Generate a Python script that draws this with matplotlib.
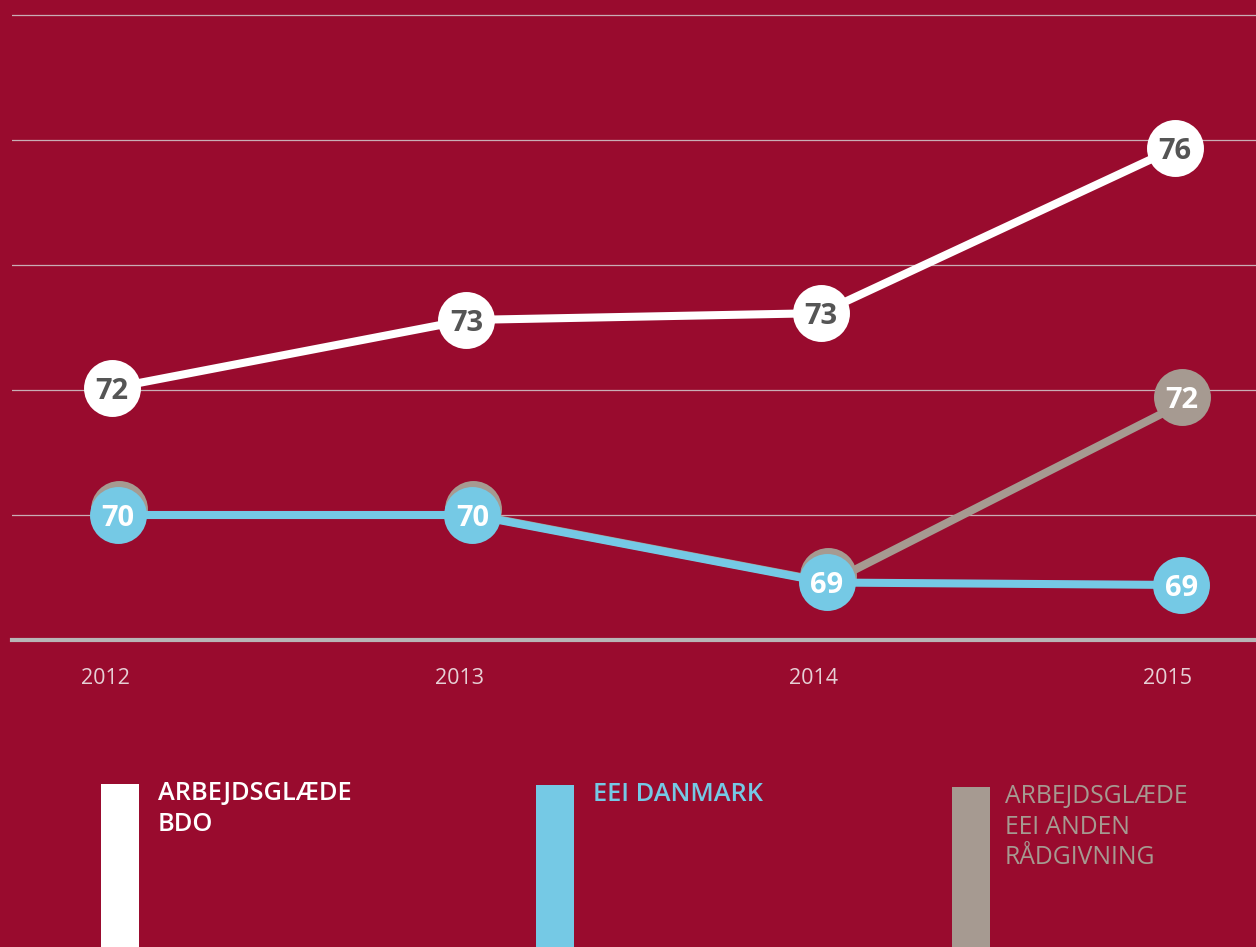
import matplotlib
matplotlib.use("Agg")
import matplotlib.pyplot as plt
from matplotlib.patches import Rectangle
from matplotlib.transforms import offset_copy

# ---- data ----
years = [2012, 2013, 2014, 2015]
bdo = [72.03, 73.12, 73.23, 75.87]
eei_danmark = [70.0, 70.0, 68.92, 68.88]
eei_anden = [70.0, 70.0, 68.92, 71.8]
year_labels = ["2012", "2013", "2014", "2015"]
series_names = ["ARBEJDSGLÆDE\nBDO", "EEI DANMARK", "ARBEJDSGLÆDE\nEEI ANDEN\nRÅDGIVNING"]

# ---- style ----
BG = "#990b2e"
WHITE = "#ffffff"
BLUE = "#75c9e5"
GRAY = "#a69a91"
DARK = "#555555"

W, H = 1256, 947
fig = plt.figure(figsize=(W / 100, H / 100), dpi=100, facecolor=BG)

# axes: y 68 -> px 640, 62.5 px per unit
y0, y1 = 68, 78.2
ax_left_px, ax_right_px = 12, W
ax_bottom_px = H - 640
ax_height_px = (y1 - y0) * 62.5
ax = fig.add_axes([ax_left_px / W, ax_bottom_px / H,
                   (ax_right_px - ax_left_px) / W, ax_height_px / H])
ax.set_facecolor(BG)
px_per_year = 354.33
xl = 2012 - (105 - ax_left_px) / px_per_year
xr = 2015 + (W - 1168) / px_per_year
ax.set_xlim(xl, xr)
ax.set_ylim(y0, y1)

for s in ["top", "right", "left"]:
    ax.spines[s].set_visible(False)
ax.spines["bottom"].set_color("#b8b6b6")
ax.spines["bottom"].set_linewidth(3)

ax.set_yticks([70, 72, 74, 76, 78])
ax.yaxis.grid(True, color="#c9aeb5", linewidth=0.9)
ax.set_axisbelow(True)
ax.tick_params(axis="y", left=False, labelleft=False)
ax.set_xticks(years)
ax.set_xticklabels(year_labels, color="#e6d0d5", fontsize=15.5, family="Open Sans")
ax.tick_params(axis="x", length=0, pad=20)

# gray markers sit as a slight "shadow" behind the blue ones
shadow = offset_copy(ax.transData, fig=fig, x=-2, y=6, units="dots")

# label gray only where it differs from the blue series (elsewhere it is hidden)
gray_show = [round(a) != round(b) for a, b in zip(eei_anden, eei_danmark)]

series = [
    (eei_anden, GRAY, WHITE, 0.045, 2, shadow, gray_show),
    (eei_danmark, BLUE, WHITE, 0.037, 4, ax.transData, [True] * 4),
    (bdo, WHITE, DARK, 0.02, 6, ax.transData, [True] * 4),
]
lw = 5.8
ms = 41
for vals, col, tcol, dx, z, mtrans, show in series:
    xs = [y + dx for y in years]
    ax.plot(xs, vals, color=col, lw=lw, zorder=z, solid_capstyle="butt",
            clip_on=False)
    ax.plot(xs, vals, linestyle="none", marker="o", markersize=ms,
            markerfacecolor=col, markeredgewidth=0, zorder=z + 0.2,
            transform=mtrans, clip_on=False)
    for x, v, sh in zip(xs, vals, show):
        if not sh:
            continue
        ax.text(x, v, f"{round(v)}", ha="center", va="center_baseline",
                color=tcol, fontsize=21, fontweight="bold", family="Open Sans",
                zorder=z + 0.5, transform=mtrans)

# ---- legend ----
legend_items = [
    (series_names[0], WHITE, WHITE, 101, 784, 57, "semibold", 18.3),
    (series_names[1], BLUE, BLUE, 536, 785, 57, "semibold", 18.3),
    (series_names[2], GRAY, GRAY, 952, 787, 53, "normal", 17.8),
]
for name, bar_col, txt_col, x_px, top_px, tx, wt, fs in legend_items:
    fig.add_artist(Rectangle((x_px / W, 0), 38 / W, (H - top_px) / H,
                             transform=fig.transFigure, color=bar_col, lw=0))
    fig.text((x_px + tx) / W, 1 - (top_px - 3) / H, name, color=txt_col,
             fontsize=fs, fontweight=wt, family="Open Sans", va="top", ha="left",
             linespacing=1.3)

fig.savefig("out.png", dpi=100, facecolor=BG)
